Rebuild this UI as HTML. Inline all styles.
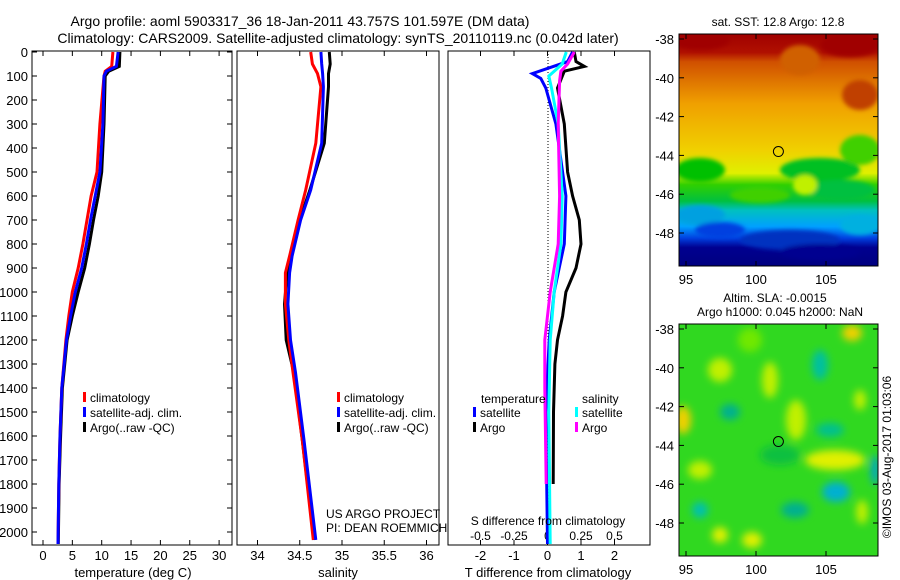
<!DOCTYPE html>
<html><head><meta charset="utf-8">
<style>
body{margin:0;background:#fff;}
svg{display:block;font-family:"Liberation Sans",sans-serif;}
</style></head><body>
<svg id="fig" width="900" height="580" xmlns="http://www.w3.org/2000/svg">
<defs>
<filter id="blur3"><feGaussianBlur stdDeviation="4"/></filter>
<filter id="blur2"><feGaussianBlur stdDeviation="2"/></filter>
<clipPath id="clipTop"><rect x="679" y="34" width="199" height="232"/></clipPath>
<clipPath id="clipBot"><rect x="679" y="324" width="199" height="232"/></clipPath>
<linearGradient id="sstGrad" x1="0" y1="0" x2="0" y2="1">
<stop offset="0" stop-color="#a00000"/><stop offset="0.08" stop-color="#b01000"/>
<stop offset="0.12" stop-color="#d05000"/><stop offset="0.3" stop-color="#f0a000"/>
<stop offset="0.5" stop-color="#f0d000"/><stop offset="0.6" stop-color="#e0f000"/>
<stop offset="0.65" stop-color="#30d000"/><stop offset="0.72" stop-color="#00c040"/>
<stop offset="0.76" stop-color="#00c0c0"/><stop offset="0.83" stop-color="#00a0ff"/>
<stop offset="0.88" stop-color="#0040e0"/><stop offset="0.92" stop-color="#000090"/>
<stop offset="1" stop-color="#000080"/>
</linearGradient>
</defs>
<text x="300" y="26" font-size="14" text-anchor="middle">Argo profile: aoml 5903317_36 18-Jan-2011 43.757S 101.597E (DM data)</text>
<text x="338" y="43" font-size="14" text-anchor="middle">Climatology: CARS2009. Satellite-adjusted climatology: synTS_20110119.nc (0.042d later)</text>
<g id="p1"></g>
<g id="p2"></g>
<g id="p3"></g>
<g id="maps"></g>
</svg>
<script>
// depth levels and series (m)
const tDepth=[0,60,80,100,300,500,600,700,800,900,1000,1100,1200,1400,1600,1800,2050];
const tClim=[11.9,11.7,10.6,10.4,9.7,9.2,8.2,7.5,6.8,6.0,5.0,4.4,3.9,3.2,2.9,2.7,2.55];
const tSat=[12.8,12.5,10.8,10.4,10.2,9.7,8.9,8.1,7.4,6.6,5.5,4.7,4.0,3.2,2.9,2.7,2.55];
const tArgo=[13.1,13.0,11.2,10.6,10.4,10.0,9.4,8.6,7.9,7.1,6.0,5.0,4.1,3.3,3.0,2.75,2.6];
const sDepth=[0,50,90,145,380,575,700,850,920,1050,1200,1335,1617,2033];
const sClim=[34.63,34.65,34.71,34.75,34.69,34.57,34.48,34.38,34.33,34.33,34.37,34.42,34.53,34.66];
const sSat=[34.75,34.76,34.77,34.78,34.76,34.63,34.51,34.41,34.38,34.36,34.39,34.45,34.55,34.69];
const sArgo=[34.85,34.86,34.84,34.84,34.79,34.62,34.50,34.40,34.35,34.32,34.34,34.43,34.53,34.67];
const dDepthA=[0,40,60,80,150,300,500,600,700,800,900,1000,1100,1200,1300,1500,1800];
const dTArgo=[0.8,0.85,1.1,0.5,0.3,0.5,0.6,0.75,0.95,1.0,0.85,0.55,0.45,0.3,0.22,0.18,0.17];
const dDepthB=[0,40,90,110,150,300,600,800,900,1000,1200,1500,2050];
const dTSat=[0.75,0.6,-0.45,-0.2,-0.05,0.25,0.55,0.5,0.35,0.2,0.05,-0.05,0.0];
const dDepthC=[0,50,80,100,150,300,600,800,1000,1200,1500,2050];
const dSSat=[0.14,0.11,0.05,0.01,0.03,0.08,0.11,0.10,0.05,0.02,0.01,0.02];
const dDepthD=[0,50,80,120,300,600,800,1000,1200,1400,1800];
const dSArgo=[0.2,0.15,0.1,0.09,0.08,0.09,0.08,0.02,-0.02,-0.02,-0.01];
const depthTicks=[0,100,200,300,400,500,600,700,800,900,1000,1100,1200,1300,1400,1500,1600,1700,1800,1900,2000];
const tTicks=[0,5,10,15,20,25,30];
const sTicks=[34,34.5,35,35.5,36];
const sTickLabels=["34","34.5","35","35.5","36"];
const dTTicks=[-2,-1,0,1,2];
const dSTicks=[-0.5,-0.25,0,0.25,0.5];
const dSTickLabels=["-0.5","-0.25","0","0.25","0.5"];

const NS="http://www.w3.org/2000/svg";
function mk(tag,attrs,parent){const e=document.createElementNS(NS,tag);for(const k in attrs)e.setAttribute(k,attrs[k]);parent.appendChild(e);return e;}
const Y=d=>52+d*0.24;
const yTop=51,yBot=545;

function frame(g,x0,x1,name){
  const r=mk('rect',{x:x0,y:yTop,width:x1-x0,height:yBot-yTop,fill:'none',stroke:'#000','stroke-width':1},g);
  
  
}
function xTicks(g,xs,scale,labels,ly){
  xs.forEach((v,i)=>{const x=scale(v);
    mk('line',{x1:x,x2:x,y1:yTop,y2:yTop+5,stroke:'#000'},g);
    mk('line',{x1:x,x2:x,y1:yBot,y2:yBot-5,stroke:'#000'},g);
    if(labels){const t=mk('text',{x:x,y:ly,'font-size':13,'text-anchor':'middle'},g);t.textContent=labels[i];
      
      }
  });
}
function drawLine(g,xs,ds,sx,color,name,w){
  const pts=xs.map((v,i)=>sx(v).toFixed(1)+','+Y(ds[i]).toFixed(1)).join(' ');
  const p=mk('polyline',{points:pts,fill:'none',stroke:color,'stroke-width':w||3,'stroke-linejoin':'miter'},g);
  
  
}
function legend(g,x,y,items){
  items.forEach((it,i)=>{
    mk('rect',{x:x,y:y+i*15-6,width:3,height:10,fill:it[0]},g);
    const t=mk('text',{x:x+7,y:y+i*15+4,'font-size':12},g);t.textContent=it[1];
    
    
  });
}
// Panel 1
const p1=document.getElementById('p1');
const sxT=v=>43+v*5.87;
frame(p1,32,232,'temperature');
depthTicks.forEach(d=>{const y=Y(d);
  mk('line',{x1:32,x2:37,y1:y,y2:y,stroke:'#000'},p1);
  mk('line',{x1:232,x2:227,y1:y,y2:y,stroke:'#000'},p1);
  const t=mk('text',{x:28,y:y+5,'font-size':13,'text-anchor':'end'},p1);t.textContent=d;
  
  
});
xTicks(p1,tTicks,sxT,tTicks.map(String),560);
drawLine(p1,tArgo,tDepth,sxT,'#000','temp-argo-line');
drawLine(p1,tClim,tDepth,sxT,'#f00','temp-climatology-line');
drawLine(p1,tSat,tDepth,sxT,'#00f','temp-satellite-line');
legend(p1,83,398,[['#f00','climatology'],['#00f','satellite-adj. clim.'],['#000','Argo(..raw -QC)']]);
let t=mk('text',{x:133,y:577,'font-size':13,'text-anchor':'middle'},p1);t.textContent='temperature (deg C)';

// Panel 2
const p2=document.getElementById('p2');
const sxS=v=>257.5+(v-34)*84.5;
frame(p2,237,439,'salinity');
xTicks(p2,sTicks,sxS,sTickLabels,560);
drawLine(p2,sArgo,sDepth,sxS,'#000','sal-argo-line');
drawLine(p2,sClim,sDepth,sxS,'#f00','sal-climatology-line');
drawLine(p2,sSat,sDepth,sxS,'#00f','sal-satellite-line');
legend(p2,337,398,[['#f00','climatology'],['#00f','satellite-adj. clim.'],['#000','Argo(..raw -QC)']]);
t=mk('text',{x:326,y:518,'font-size':12},p2);t.textContent='US ARGO PROJECT';

t=mk('text',{x:326,y:532,'font-size':12},p2);t.textContent='PI: DEAN ROEMMICH';

t=mk('text',{x:338,y:577,'font-size':13,'text-anchor':'middle'},p2);t.textContent='salinity';

// Panel 3
const p3=document.getElementById('p3');
const sxD=v=>547.5+v*33.5;
const sxDS=v=>547.5+v*134;
frame(p3,448,650,'difference');
xTicks(p3,dTTicks,sxD,dTTicks.map(String),560);
dSTicks.forEach((v,i)=>{const tt=mk('text',{x:sxDS(v),y:540,'font-size':12,'text-anchor':'middle'},p3);tt.textContent=dSTickLabels[i];
  });
mk('line',{x1:548,x2:548,y1:yTop,y2:yBot,stroke:'#000','stroke-dasharray':'1,2'},p3);
drawLine(p3,dTArgo,dDepthA,sxD,'#000','tdiff-argo-line');
drawLine(p3,dTSat,dDepthB,sxD,'#00f','tdiff-satellite-line');
drawLine(p3,dSSat,dDepthC,sxDS,'#0ff','sdiff-satellite-line');
drawLine(p3,dSArgo,dDepthD,sxDS,'#f0f','sdiff-argo-line');
t=mk('text',{x:481,y:403,'font-size':12},p3);t.textContent='temperature';

t=mk('text',{x:582,y:403,'font-size':12},p3);t.textContent='salinity';

legend(p3,473,413,[['#00f','satellite'],['#000','Argo']]);
legend(p3,575,413,[['#0ff','satellite'],['#f0f','Argo']]);
t=mk('text',{x:548,y:525,'font-size':12,'text-anchor':'middle'},p3);t.textContent='S difference from climatology';

t=mk('text',{x:548,y:577,'font-size':13,'text-anchor':'middle'},p3);t.textContent='T difference from climatology';


// Maps
const mp=document.getElementById('maps');
const latTicks=[-38,-40,-42,-44,-46,-48];
const lonTicks=[95,100,105];
function mapAxes(y0,name){
  const lx=v=>686+(v-95)*14, ly=v=>y0+5+(-38-v)*19.4;
  const r=mk('rect',{x:679,y:y0,width:199,height:232,fill:'none',stroke:'#000'},mp);
  
  latTicks.forEach(v=>{const y=ly(v);
    mk('line',{x1:679,x2:684,y1:y,y2:y,stroke:'#000'},mp);
    mk('line',{x1:878,x2:873,y1:y,y2:y,stroke:'#000'},mp);
    const tt=mk('text',{x:674,y:y+5,'font-size':13,'text-anchor':'end'},mp);tt.textContent=v;
    });
  lonTicks.forEach(v=>{const x=lx(v);
    mk('line',{x1:x,x2:x,y1:y0,y2:y0+5,stroke:'#000'},mp);
    mk('line',{x1:x,x2:x,y1:y0+232,y2:y0+227,stroke:'#000'},mp);
    const tt=mk('text',{x:x,y:y0+250,'font-size':13,'text-anchor':'middle'},mp);tt.textContent=v;
    });
  const c=mk('circle',{cx:lx(101.6),cy:ly(-43.8),r:5,fill:'none',stroke:'#000','stroke-width':1},mp);
  
}
// SST map
const g1=mk('g',{'clip-path':'url(#clipTop)'},mp);

mk('rect',{x:679,y:34,width:199,height:232,fill:'url(#sstGrad)'},g1);
const gb=mk('g',{filter:'url(#blur2)'},g1);
[[700,40,'#a00000',30,10],[850,45,'#a00000',30,12],[800,60,'#d06000',20,15],[860,95,'#c04000',18,15],
 [700,170,'#00c000',25,12],[820,170,'#00c020',40,12],[860,150,'#40d000',20,15],[840,190,'#00c040',35,10],
 [805,185,'#c0f000',12,10],[760,195,'#40d000',30,8],[700,215,'#00a0e0',25,10],[790,240,'#0030c0',50,10],
 [720,230,'#0040e0',25,8],[860,225,'#00b0e0',20,10],[820,252,'#000090',40,8]].forEach(b=>
  mk('ellipse',{cx:b[0],cy:b[1],rx:b[3],ry:b[4],fill:b[2]},gb));
mapAxes(34,'sst-map');
t=mk('text',{x:778,y:26,'font-size':12,'text-anchor':'middle'},mp);t.textContent='sat. SST: 12.8 Argo: 12.8';

// SLA map
const g2=mk('g',{'clip-path':'url(#clipBot)'},mp);

mk('rect',{x:679,y:324,width:199,height:232,fill:'#30d820'},g2);
const gs=mk('g',{filter:'url(#blur3)'},g2);
[[750,340,'#70e800',12,12],[720,370,'#c0f000',12,12],[770,380,'#c0f000',8,18],[820,365,'#00c0a0',8,15],
 [852,333,'#f0d000',10,8],[860,400,'#c0f000',6,10],[730,412,'#00b090',10,8],[796,420,'#c0f000',10,20],
 [683,420,'#f0d000',8,14],[830,430,'#00c090',14,7],[835,460,'#e0f000',30,10],[700,470,'#c0f000',12,9],
 [836,492,'#00b0d0',14,10],[700,510,'#00c0b0',8,8],[795,510,'#00b090',14,8],[720,535,'#e0f000',8,8],
 [752,540,'#e0f000',10,8],[875,470,'#00a0d0',4,15],[862,512,'#c0f000',6,12],[780,455,'#10c040',20,10]].forEach(b=>
  mk('ellipse',{cx:b[0],cy:b[1],rx:b[3],ry:b[4],fill:b[2]},gs));
mapAxes(324,'sla-map');
t=mk('text',{x:775,y:302,'font-size':12,'text-anchor':'middle'},mp);t.textContent='Altim. SLA: -0.0015';

t=mk('text',{x:780,y:316,'font-size':12,'text-anchor':'middle'},mp);t.textContent='Argo h1000: 0.045 h2000: NaN';

t=mk('text',{x:0,y:0,'font-size':12,'text-anchor':'middle',transform:'translate(891,457) rotate(-90)'},mp);t.textContent='©IMOS 03-Aug-2017 01:03:06';

</script>
</body></html>
